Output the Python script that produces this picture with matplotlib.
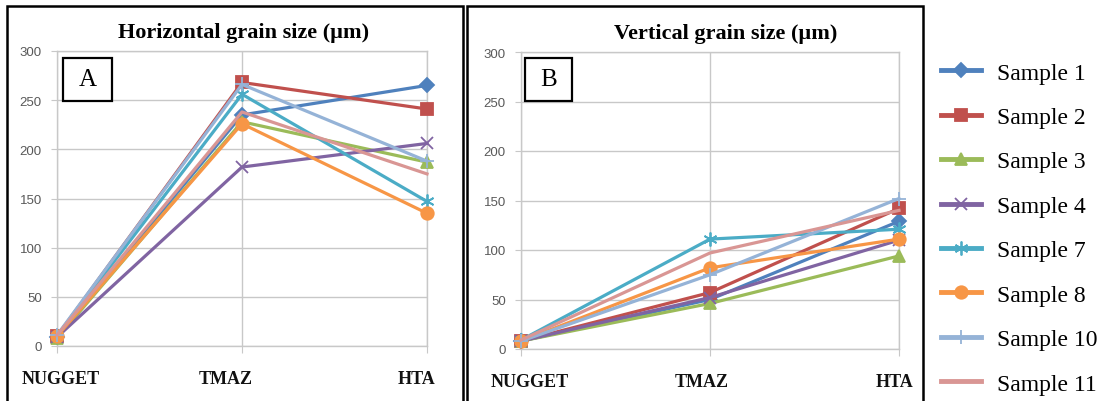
import matplotlib
matplotlib.use("Agg")
import matplotlib.pyplot as plt
from matplotlib.patches import Rectangle
from matplotlib.transforms import ScaledTranslation, blended_transform_factory

categories = ["NUGGET", "TMAZ", "HTA"]
samples = ["Sample 1", "Sample 2", "Sample 3", "Sample 4", "Sample 7", "Sample 8", "Sample 10", "Sample 11"]

horizontal = {
    "Sample 1": [9, 235, 265],
    "Sample 2": [10, 268, 241],
    "Sample 3": [8, 228, 187],
    "Sample 4": [9, 182, 206],
    "Sample 7": [10, 256, 147],
    "Sample 8": [10, 226, 135],
    "Sample 10": [11, 266, 188],
    "Sample 11": [11, 238, 175],
}
vertical = {
    "Sample 1": [8, 50, 129],
    "Sample 2": [8, 57, 142],
    "Sample 3": [8, 46, 94],
    "Sample 4": [8, 52, 110],
    "Sample 7": [9, 111, 121],
    "Sample 8": [8, 82, 111],
    "Sample 10": [8, 75, 152],
    "Sample 11": [9, 97, 140],
}
yticks = [0, 50, 100, 150, 200, 250, 300]

colors = ["#4F81BD", "#C0504D", "#9BBB59", "#8064A2", "#4BACC6", "#F79646", "#95B3D7", "#D99694"]
markers = ["D", "s", "^", "x", (6, 2, 0), "o", "+", "None"]
msizes = [7, 8.5, 8.5, 9, 10, 9, 10, 0]

W, H = 1112, 402
fig = plt.figure(figsize=(W / 100, H / 100), dpi=100)

def px_axes(l, t, r, b):
    return fig.add_axes([l / W, 1 - b / H, (r - l) / W, (b - t) / H])

def draw_panel(ax, data, title, letter, label_offsets, box, title_dx):
    for i, s in enumerate(samples):
        ax.plot(range(len(categories)), data[s], color=colors[i], lw=2.3,
                marker=markers[i], ms=msizes[i], mec=colors[i], mfc=colors[i],
                mew=1.3, label=s, zorder=3, clip_on=False)
    ax.set_xlim(0, 2)
    ax.set_ylim(0, 300)
    ax.set_yticks(yticks)
    ax.set_xticks(range(len(categories)))
    ax.set_xticklabels([""] * len(categories))
    base = blended_transform_factory(ax.transData, ax.transAxes)
    for i, (cat, dx) in enumerate(zip(categories, label_offsets)):
        tr = base + ScaledTranslation(dx / 100, -33 / 100, fig.dpi_scale_trans)
        ax.text(i, 0, cat, transform=tr, ha="center", va="center",
                fontfamily="Liberation Serif", fontweight="bold", fontsize=13, color="#111111")
    for lab in ax.get_yticklabels():
        lab.set_fontfamily("Liberation Sans")
        lab.set_fontsize(9.5)
        lab.set_color("#595959")
    ax.grid(True, color="#C8C8C8", lw=1)
    ax.set_axisbelow(True)
    for sp in ax.spines.values():
        sp.set_color("#C8C8C8")
        sp.set_linewidth(1)
    ax.tick_params(axis="y", length=4, color="#C8C8C8", pad=7)
    ax.tick_params(axis="x", length=5, color="#C8C8C8")
    t = ax.set_title(title, fontfamily="Liberation Serif", fontweight="bold", fontsize=16, pad=10)
    t.set_transform(t.get_transform() + ScaledTranslation(title_dx / 100, 0, fig.dpi_scale_trans))
    l, tp, r, b = box
    fig.patches.append(Rectangle((l, H - b), r - l, b - tp, transform=None, fill=True,
                                 fc="white", ec="black", lw=1.6, zorder=5))
    fig.text((l + r) / 2 / W, 1 - (tp + b) / 2 / H, letter, ha="center", va="center",
             fontfamily="Liberation Serif", fontsize=18, zorder=6)

axA = px_axes(57, 52, 427, 347)
draw_panel(axA, horizontal, "Horizontal grain size (\u00b5m)", "A",
           [4, -16, -10], (63, 59, 112, 102), 2)
axB = px_axes(521, 53, 899, 350)
draw_panel(axB, vertical, "Vertical grain size (\u00b5m)", "B",
           [9, -8, -4], (525, 59, 572, 102), 16)

# panel frames
fig.patches.append(Rectangle((7, -20), 456, 402 - 7 + 20, transform=None, fill=False,
                             ec="black", lw=1.8))
fig.patches.append(Rectangle((467, -20), 456, 402 - 7 + 20, transform=None, fill=False,
                             ec="black", lw=1.8))

handles, labels = axA.get_legend_handles_labels()
leg = fig.legend(handles, labels, loc="upper left", bbox_to_anchor=(941 / W, 1 - 63 / H),
                 frameon=False, prop={"family": "Liberation Serif", "size": 17},
                 handlelength=1.7, handletextpad=0.68, labelspacing=0.97, borderaxespad=0,
                 borderpad=0)
for h in leg.legend_handles:
    h.set_linewidth(3.5)

fig.savefig("out.png", dpi=100)
